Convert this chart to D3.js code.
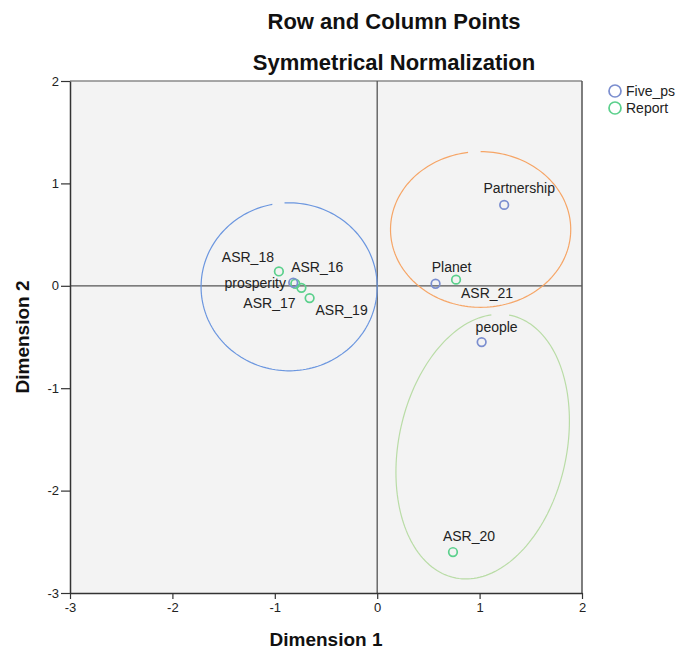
<!DOCTYPE html>
<html>
<head>
<meta charset="utf-8">
<script src="https://cdn.jsdelivr.net/npm/d3@7"></script>
<style>
  body { margin: 0; background: #fff; }
  svg { font-family: "Liberation Sans", Arial, sans-serif; }
</style>
</head>
<body>
<svg id="chart" width="694" height="655"></svg>
<script>
// category points (Five_ps) and row points (Report), dimension 1 / dimension 2
const fiveNames = ["Partnership", "Planet", "people", "prosperity"];
const fiveDim1 = [1.24, 0.57, 1.02, -0.82];
const fiveDim2 = [0.79, 0.02, -0.55, 0.03];

const reportNames = ["ASR_16", "ASR_17", "ASR_18", "ASR_19", "ASR_20", "ASR_21"];
const reportDim1 = [-0.80, -0.74, -0.96, -0.66, 0.74, 0.77];
const reportDim2 = [0.02, -0.02, 0.14, -0.12, -2.60, 0.06];

const xTicks = [-3, -2, -1, 0, 1, 2];
const yTicks = [-3, -2, -1, 0, 1, 2];

// hand drawn group ellipses: centre, radii (dimension units), tilt in degrees
const groupCx = [-0.86, 1.01, 1.03];
const groupCy = [-0.01, 0.55, -1.57];
const groupRx = [0.86, 0.88, 0.82];
const groupRy = [0.82, 0.76, 1.31];
const groupTilt = [0, 0, 12];

document.addEventListener("DOMContentLoaded", () => {
  const svg = d3.select("#chart");

  const left = 70, right = 582, top = 81, bottom = 593;

  const x = d3.scaleLinear().domain([-3, 2]).range([left, right]);
  const y = d3.scaleLinear().domain([-3, 2]).range([bottom, top]);

  // label placement, pixel offset from the marker
  const labelOffset = {
    Partnership: [15, -12], Planet: [16, -12], people: [15, -10], prosperity: [-38, 5],
    ASR_16: [22, -12], ASR_17: [-32, 20], ASR_18: [-31, -9], ASR_19: [32, 17],
    ASR_20: [16, -11], ASR_21: [31, 18]
  };

  const blue = "#7b8ecf";
  const green = "#5bd08c";
  const ringColors = ["#6b96df", "#f6a566", "#b9dca6"];
  const gaps = [[-101, -93], [-97, -90], [-103, -91]];

  svg.append("rect")
    .attr("x", left).attr("y", top)
    .attr("width", right - left).attr("height", bottom - top)
    .attr("fill", "#f3f3f3");

  // frame: top and right edges
  svg.append("line")
    .attr("x1", left).attr("x2", right).attr("y1", top).attr("y2", top)
    .attr("stroke", "#8a8a8a").attr("stroke-width", 1.5);
  svg.append("line")
    .attr("x1", right).attr("x2", right).attr("y1", top).attr("y2", bottom)
    .attr("stroke", "#555").attr("stroke-width", 1.5);

  // reference lines at zero
  svg.append("line")
    .attr("x1", x(0)).attr("x2", x(0)).attr("y1", top).attr("y2", bottom)
    .attr("stroke", "#555").attr("stroke-width", 1.3);
  svg.append("line")
    .attr("x1", left).attr("x2", right).attr("y1", y(0)).attr("y2", y(0))
    .attr("stroke", "#555").attr("stroke-width", 1.3);

  // ellipses with a small break at the top
  const kx = x(1) - x(0), ky = y(0) - y(1);
  groupCx.forEach((cx, i) => {
    const px = x(cx), py = y(groupCy[i]);
    const a = groupRx[i] * kx, b = groupRy[i] * ky;
    const th = groupTilt[i] * Math.PI / 180;
    const pts = [];
    for (let t = gaps[i][1]; t <= gaps[i][0] + 360; t += 2) {
      const r = t * Math.PI / 180;
      const ex = a * Math.cos(r), ey = b * Math.sin(r);
      pts.push([px + ex * Math.cos(th) - ey * Math.sin(th), py + ex * Math.sin(th) + ey * Math.cos(th)]);
    }
    svg.append("path")
      .attr("d", d3.line()(pts))
      .attr("fill", "none")
      .attr("stroke", ringColors[i])
      .attr("stroke-width", 1.2);
  });

  // axes
  const fmt = d => String(d);
  const xAxis = svg.append("g")
    .attr("transform", `translate(0,${bottom})`)
    .call(d3.axisBottom(x).tickValues(xTicks).tickFormat(fmt).tickSize(6).tickPadding(4).tickSizeOuter(0));
  const yAxis = svg.append("g")
    .attr("transform", `translate(${left},0)`)
    .call(d3.axisLeft(y).tickValues(yTicks).tickFormat(fmt).tickSize(9).tickPadding(2).tickSizeOuter(0));
  [xAxis, yAxis].forEach(g => {
    g.select(".domain").attr("stroke", "#333").attr("stroke-width", 1.5);
    g.selectAll(".tick line").attr("stroke", "#333").attr("stroke-width", 1.2);
    g.selectAll("text")
      .attr("font-family", "Liberation Sans, Arial, sans-serif")
      .attr("font-size", 13).attr("fill", "#222");
  });

  const drawPoints = (names, d1, d2, color) => {
    const pts = names.map((n, i) => ({ name: n, d1: d1[i], d2: d2[i] }));
    svg.append("g").selectAll("circle")
      .data(pts)
      .enter()
      .append("circle")
      .attr("cx", d => x(d.d1))
      .attr("cy", d => y(d.d2))
      .attr("r", 4.3)
      .attr("fill", "none")
      .attr("stroke", color)
      .attr("stroke-width", 1.7);
    svg.append("g").selectAll("text")
      .data(pts)
      .enter()
      .append("text")
      .attr("x", d => x(d.d1) + labelOffset[d.name][0])
      .attr("y", d => y(d.d2) + labelOffset[d.name][1])
      .attr("text-anchor", "middle")
      .attr("font-size", 14)
      .attr("fill", "#222")
      .text(d => d.name);
  };
  drawPoints(reportNames, reportDim1, reportDim2, green);
  drawPoints(fiveNames, fiveDim1, fiveDim2, blue);

  // titles
  svg.append("text")
    .attr("x", 394).attr("y", 29)
    .attr("text-anchor", "middle")
    .attr("font-size", 22).attr("font-weight", "bold").attr("fill", "#111")
    .text("Row and Column Points");
  svg.append("text")
    .attr("x", 394).attr("y", 70)
    .attr("text-anchor", "middle")
    .attr("font-size", 22).attr("font-weight", "bold").attr("fill", "#111")
    .text("Symmetrical Normalization");

  svg.append("text")
    .attr("x", (left + right) / 2).attr("y", 646)
    .attr("text-anchor", "middle")
    .attr("font-size", 19).attr("font-weight", "bold").attr("fill", "#111")
    .text("Dimension 1");
  svg.append("text")
    .attr("transform", `translate(29,${(top + bottom) / 2}) rotate(-90)`)
    .attr("text-anchor", "middle")
    .attr("font-size", 19).attr("font-weight", "bold").attr("fill", "#111")
    .text("Dimension 2");

  // legend
  const legend = svg.append("g").attr("transform", "translate(615,91)");
  [["Five_ps", blue], ["Report", green]].forEach(([label, color], i) => {
    legend.append("circle")
      .attr("cx", 0).attr("cy", i * 17)
      .attr("r", 6)
      .attr("fill", "none")
      .attr("stroke", color)
      .attr("stroke-width", 1.7);
    legend.append("text")
      .attr("x", 11).attr("y", i * 17 + 5)
      .attr("font-size", 14).attr("fill", "#222")
      .text(label);
  });
});
</script>
</body>
</html>
